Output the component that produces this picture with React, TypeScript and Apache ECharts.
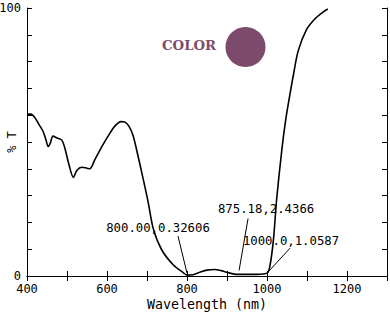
import React, { useEffect, useRef } from "react";
import * as echarts from "echarts";

const wavelength = [
  400, 410, 420, 430, 440, 447, 453, 458, 465, 475, 487, 495, 505, 516, 525, 537, 550, 557,
  570, 590, 607, 620, 635, 645, 655, 665, 678, 690, 703, 716, 737, 766, 791, 800, 815, 832,
  850, 870, 885, 899, 915, 930, 975, 1000, 1007, 1016, 1024, 1037, 1047, 1057, 1066, 1078,
  1099, 1120, 1140, 1152,
];
const transmittance = [
  60.4, 60.4, 59.0, 56.5, 54.0, 51.0, 48.3, 49.5, 52.2, 51.5, 50.7, 47.5, 41.5, 36.8, 39.5,
  40.6, 40.2, 40.0, 43.5, 49.0, 53.2, 56.0, 57.6, 57.4, 55.8, 52.5, 44.5, 36.5, 27.5, 17.5,
  9.7, 4.1, 1.2, 0.33, 0.5, 1.4, 2.2, 2.44, 2.0, 1.4, 0.8, 0.6, 0.6, 1.06, 3.5, 13.4, 28.4,
  47, 58.5, 67.5, 75, 84, 92, 96, 98.5, 99.6,
];
const xTickLabels = [400, 600, 800, 1000, 1200];
const yTickLabels = [0, 100];
const annotX = [800.0, 875.18, 1000.0];
const annotY = [0.32606, 2.4366, 1.0587];
const annotText = ["800.00,0.32606", "875.18,2.4366", "1000.0,1.0587"];
// label centre offset and leader line start/end offsets from the data point (pixels)
const annotLayout = [
  { tx: -29, ty: -47, x1: -9, y1: -39, x2: 0, y2: -2 },
  { tx: 49, ty: -60, x1: 31, y1: -51, x2: 22, y2: 1 },
  { tx: 24, ty: -32, x1: 23, y1: -25, x2: 0, y2: 0 },
];

const MONO = "DejaVu Sans Mono";

export default function App() {
  const ref = useRef<HTMLDivElement>(null);
  useEffect(() => {
    if (!ref.current) return;
    const chart = echarts.init(ref.current, null, { renderer: "svg" });
    const axisCommon = {
      axisLine: { show: true, lineStyle: { color: "#000", width: 1 } },
      axisTick: { show: true, inside: true, length: 5, lineStyle: { color: "#000" } },
      splitLine: { show: false },
    };
    chart.setOption({
      animation: false,
      backgroundColor: "#fff",
      grid: { left: 27, right: 3, top: 8, bottom: 44, containLabel: false, outerBoundsMode: "none" },
      xAxis: [
        {
          type: "value",
          min: 400,
          max: 1300,
          interval: 100,
          position: "bottom",
          ...axisCommon,
          name: "Wavelength (nm)",
          nameLocation: "middle",
          nameGap: 22,
          nameMoveOverlap: false,
          nameTextStyle: { fontFamily: MONO, fontSize: 13.3, color: "#000" },
          axisLabel: {
            fontFamily: MONO,
            fontSize: 12,
            color: "#000",
            margin: 7,
            formatter: (v: number) => (xTickLabels.includes(v) ? String(v) : ""),
          },
        },
        {
          type: "value",
          min: 400,
          max: 1300,
          interval: 100,
          position: "top",
          ...axisCommon,
          axisLabel: { show: false },
        },
      ],
      yAxis: [
        {
          type: "value",
          min: 0,
          max: 100,
          interval: 10,
          position: "left",
          ...axisCommon,
          name: "% T",
          nameLocation: "middle",
          nameGap: 9,
          nameRotate: 90,
          nameMoveOverlap: false,
          nameTextStyle: { fontFamily: MONO, fontSize: 12, color: "#000" },
          axisLabel: {
            fontFamily: MONO,
            fontSize: 12,
            color: "#000",
            margin: 6,
            formatter: (v: number) => (yTickLabels.includes(v) ? String(v) : ""),
          },
        },
        {
          type: "value",
          min: 0,
          max: 100,
          interval: 10,
          position: "right",
          ...axisCommon,
          axisLabel: { show: false },
        },
      ],
      series: [
        {
          type: "line",
          data: wavelength.map((w, i) => [w, transmittance[i]]),
          showSymbol: false,
          smooth: 0.3,
          lineStyle: { color: "#000", width: 1.6 },
          silent: true,
        },
      ],
    });

    const graphics: any[] = [
      {
        type: "text",
        left: 162,
        top: 39,
        style: {
          text: "COLOR",
          fontFamily: "DejaVu Serif",
          fontWeight: "bold",
          fontSize: 13.3,
          fill: "#7c4b6b",
        },
      },
      {
        type: "circle",
        shape: { cx: 245.5, cy: 47, r: 20 },
        style: { fill: "#7c4b6b" },
      },
    ];
    annotX.forEach((x, i) => {
      const p = chart.convertToPixel({ gridIndex: 0 }, [x, annotY[i]]) as number[];
      const L = annotLayout[i];
      graphics.push({
        type: "text",
        x: p[0] + L.tx,
        y: p[1] + L.ty,
        style: {
          text: annotText[i],
          fontFamily: MONO,
          fontSize: 12.3,
          fill: "#000",
          align: "center",
          verticalAlign: "middle",
        },
      });
      graphics.push({
        type: "line",
        shape: { x1: p[0] + L.x1, y1: p[1] + L.y1, x2: p[0] + L.x2, y2: p[1] + L.y2 },
        style: { stroke: "#000", lineWidth: 1 },
      });
    });
    chart.setOption({ graphic: graphics });

    return () => chart.dispose();
  }, []);
  return <div ref={ref} style={{ width: 390, height: 320, position: "absolute", left: 0, top: 0 }} />;
}
